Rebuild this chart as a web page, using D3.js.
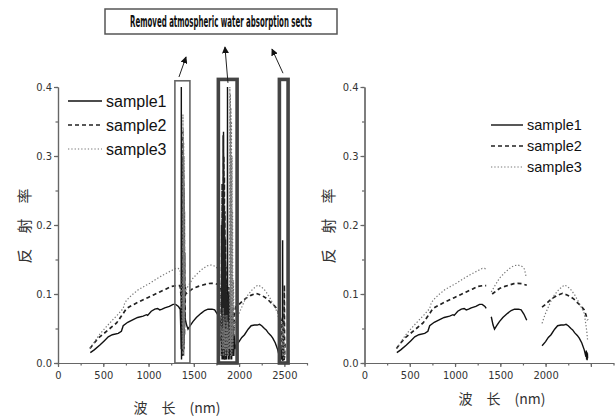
<!DOCTYPE html>
<meta charset="utf-8">
<style>
body { margin: 0; background: #fff; }
.axis path, .axis line { stroke: #666; stroke-width: 1.2; fill: none; }
.axis text { font-family: "Liberation Sans Narrow", "DejaVu Sans Condensed", sans-serif; font-size: 11px; fill: #333; }
.legend text { font-family: "Liberation Sans", Arial, sans-serif; fill: #111; }
.cjk { font-family: "Noto Sans CJK SC", sans-serif; fill: #333; }
</style>
<body>
<script src="https://d3js.org/d3.v7.min.js"></script>
<script>

// reflectance spectra outside the water absorption bands [nm, value]
var sample1 = [[357,0.015],[400,0.019],[463,0.026],[510,0.032],[555,0.038],[600,0.041],[665,0.043],[700,0.046],[720,0.054],[770,0.059],[830,0.063],[880,0.066],[940,0.068],[977,0.070],[990,0.069],[1030,0.075],[1069,0.078],[1100,0.079],[1124,0.077],[1150,0.078],[1179,0.080],[1230,0.082],[1271,0.085],[1300,0.085],[1330,0.082],[1344,0.079],
  [1400,0.067],[1420,0.055],[1436,0.049],[1460,0.054],[1490,0.060],[1528,0.066],[1580,0.072],[1620,0.076],[1656,0.078],[1700,0.078],[1730,0.077],[1760,0.071],[1792,0.062],
  [1961,0.025],[2000,0.031],[2030,0.037],[2060,0.041],[2100,0.049],[2133,0.054],[2170,0.055],[2200,0.055],[2226,0.056],[2250,0.054],[2280,0.050],[2299,0.048],[2320,0.044],[2350,0.040],[2372,0.036],[2400,0.029],[2427,0.019],[2440,0.012],[2446,0.009],[2450,0.018],[2453,0.005],[2456,0.016],[2459,0.004],[2462,0.014],[2464,0.007]];

var sample2 = [[353,0.021],[400,0.029],[445,0.036],[500,0.042],[555,0.048],[600,0.053],[647,0.058],[700,0.068],[757,0.079],[810,0.083],[867,0.087],[930,0.091],[996,0.095],[1060,0.099],[1124,0.103],[1190,0.107],[1252,0.111],[1300,0.112],[1344,0.112],
  [1410,0.100],[1450,0.104],[1491,0.108],[1550,0.111],[1601,0.113],[1650,0.115],[1693,0.1155],[1740,0.115],[1792,0.1126],
  [1961,0.081],[2000,0.085],[2040,0.090],[2078,0.094],[2130,0.098],[2188,0.101],[2230,0.099],[2262,0.097],[2310,0.093],[2354,0.087],[2390,0.083],[2427,0.077],[2445,0.070],[2464,0.062]];

var sample3 = [[353,0.021],[400,0.030],[450,0.040],[537,0.053],[600,0.062],[660,0.070],[720,0.079],[735,0.086],[757,0.091],[820,0.099],[885,0.106],[950,0.111],[1014,0.1155],[1090,0.122],[1161,0.1275],[1240,0.133],[1300,0.137],[1326,0.137],[1345,0.136],
  [1400,0.103],[1440,0.112],[1491,0.123],[1550,0.131],[1601,0.137],[1650,0.141],[1693,0.142],[1740,0.140],[1767,0.136],[1785,0.125],
  [1961,0.0575],[1990,0.069],[2023,0.079],[2060,0.090],[2097,0.0985],[2150,0.107],[2207,0.113],[2240,0.111],[2281,0.106],[2320,0.099],[2354,0.091],[2390,0.082],[2427,0.072],[2440,0.060],[2453,0.048],[2464,0.033]];

// noisy readings inside the absorption bands (only in the left panel)
var sample1Bands = [[1350,0.078],[1356,0.05],[1360,0.02],[1362,0.400],[1364,0.005],[1368,0.04],[1375,0.02],[1382,0.06],[1390,0.03],[1396,0.06],
  [1800,0.055],[1804,0.01],[1808,0.07],[1812,0.005],[1815,0.09],[1818,0.01],[1822,0.06],[1825,0.005],[1828,0.335],[1832,0.005],[1835,0.10],[1838,0.01],[1842,0.08],[1845,0.005],[1849,0.11],[1852,0.01],[1856,0.07],[1860,0.005],[1864,0.09],[1868,0.01],[1870,0.06],[1872,0.400],[1874,0.01],[1878,0.08],[1882,0.005],[1886,0.10],[1890,0.01],[1895,0.07],[1899,0.005],[1903,0.09],[1907,0.01],[1912,0.06],[1918,0.005],[1923,0.07],[1928,0.01],[1935,0.05],[1942,0.01],[1948,0.04],[1955,0.02],
  [2470,0.02],[2475,0.005],[2479,0.01],[2481,0.178],[2483,0.003],[2490,0.01],[2497,0.004],[2505,0.01]];

var sample2Bands = [[1350,0.110],[1365,0.09],[1372,0.02],[1375,0.335],[1377,0.01],[1379,0.32],[1381,0.02],[1383,0.30],[1385,0.01],[1387,0.28],[1389,0.03],[1391,0.25],[1393,0.02],[1395,0.22],[1397,0.04],[1399,0.16],[1403,0.06],[1406,0.11],
  [1800,0.105],[1804,0.03],[1807,0.20],[1810,0.01],[1813,0.26],[1816,0.02],[1819,0.24],[1822,0.01],[1825,0.33],[1828,0.02],[1831,0.30],[1834,0.01],[1837,0.27],[1840,0.005],[1843,0.22],[1846,0.02],[1849,0.18],[1852,0.01],[1855,0.14],[1858,0.02],[1862,0.12],[1866,0.01],[1870,0.10],[1874,0.02],[1878,0.09],[1883,0.01],[1888,0.11],[1893,0.02],[1898,0.08],[1903,0.01],[1908,0.09],[1914,0.02],[1920,0.07],[1926,0.01],[1933,0.08],[1940,0.03],[1947,0.07],[1955,0.075],
  [2470,0.05],[2478,0.01],[2485,0.04],[2490,0.005],[2500,0.113],[2502,0.01],[2508,0.03]];

var sample3Bands = [[1352,0.130],[1366,0.10],[1378,0.02],[1380,0.36],[1382,0.02],[1384,0.34],[1386,0.01],[1388,0.32],[1390,0.03],[1392,0.30],[1394,0.02],[1396,0.26],[1397,0.05],[1398,0.18],[1399,0.08],
  [1790,0.11],[1800,0.04],[1805,0.07],[1810,0.01],[1815,0.05],[1820,0.02],[1825,0.08],[1830,0.01],[1835,0.06],[1840,0.02],[1845,0.07],[1850,0.01],[1855,0.05],[1860,0.02],[1865,0.07],[1870,0.01],[1875,0.06],[1880,0.01],[1885,0.05],[1890,0.02],[1895,0.03],[1898,0.40],[1901,0.02],[1904,0.39],[1907,0.01],[1910,0.37],[1913,0.02],[1916,0.35],[1919,0.01],[1922,0.30],[1925,0.03],[1928,0.22],[1932,0.02],[1938,0.12],[1945,0.04],[1952,0.06],
  [2470,0.03],[2476,0.06],[2482,0.01],[2488,0.05],[2494,0.005],[2500,0.03],[2506,0.01]];

var seriesNames = ["sample1", "sample2", "sample3"];
var removedBands = [[1346,1399],[1793,1960],[2465,2545]];

// annotation boxes around the bands (nm), and arrows [nm, value]
var bandBoxes = [{x0:1291, x1:1457, top:0.409, w:1.6}, {x0:1771, x1:1978, top:0.411, w:3.6}, {x0:2445, x1:2541, top:0.411, w:3.6}];
var arrows = [{from:[1336,0.4145], to:[1414,0.4435]}, {from:[1877,0.406], to:[1844,0.458]}, {from:[2485,0.420], to:[2363,0.455]}];
var noteText = "Removed atmospheric water absorption sects";

var xTicks = d3.range(0, 2751, 250);
var yTicks = d3.range(0, 0.401, 0.05);

var styles = [
  {stroke:"#111", width:1.4, dash:null},
  {stroke:"#222", width:1.7, dash:"4,3"},
  {stroke:"#777", width:1.2, dash:"1.3,2"}
];

var svg = d3.select("body").append("svg")
    .attr("width", 616)
    .attr("height", 419);

var y = d3.scaleLinear().domain([0, 0.4]).range([363, 87]);

function withGaps(arr) {
  var out = [];
  arr.forEach(function(d, i) {
    if (i > 0) {
      var prev = arr[i-1][0];
      var cut = removedBands.some(function(b) { return prev < b[0] && d[0] > b[1]; });
      if (cut) out.push(null);
    }
    out.push(d);
  });
  return out;
}

function merged(a, b) {
  return a.concat(b).sort(function(p, q) { return p[0] - q[0]; });
}

function drawPanel(x, opts) {
  var g = svg.append("g");

  // minor ticks
  g.append("g").attr("class", "axis")
      .attr("transform", "translate(0," + y(0) + ")")
      .call(d3.axisBottom(x).tickValues(xTicks).tickSize(2.5).tickSizeOuter(0).tickFormat(""));
  g.append("g").attr("class", "axis")
      .attr("transform", "translate(0," + y(0) + ")")
      .call(d3.axisBottom(x).tickValues(xTicks.filter(function(t) { return t % 500 === 0; }))
        .tickSize(4).tickSizeOuter(0).tickPadding(4)
        .tickFormat(function(t) { return opts.hide2500 && t === 2500 ? "" : t; }));

  g.append("g").attr("class", "axis")
      .attr("transform", "translate(" + x(0) + ",0)")
      .call(d3.axisLeft(y).tickValues(yTicks).tickSize(2.5).tickSizeOuter(0).tickFormat(""));
  g.append("g").attr("class", "axis")
      .attr("transform", "translate(" + x(0) + ",0)")
      .call(d3.axisLeft(y).tickValues([0, 0.1, 0.2, 0.3, 0.4]).tickSize(4).tickSizeOuter(0).tickPadding(2)
        .tickFormat(d3.format(".1f")));

  var line = d3.line()
      .defined(function(d) { return d !== null; })
      .x(function(d) { return x(d[0]); })
      .y(function(d) { return y(d[1]); });

  opts.series.forEach(function(s, i) {
    g.append("path")
        .datum(s)
        .attr("d", line)
        .attr("fill", "none")
        .attr("stroke", styles[i].stroke)
        .attr("stroke-width", styles[i].width)
        .attr("stroke-dasharray", styles[i].dash);
  });

  // legend
  var lg = g.append("g").attr("class", "legend");
  seriesNames.forEach(function(name, i) {
    var ly = opts.legY + i * opts.legStep;
    lg.append("line")
        .attr("x1", opts.legX).attr("x2", opts.legX + opts.legLen)
        .attr("y1", ly).attr("y2", ly)
        .attr("stroke", styles[i].stroke)
        .attr("stroke-width", styles[i].width)
        .attr("stroke-dasharray", styles[i].dash);
    lg.append("text")
        .attr("x", opts.legX + opts.legLen + 4)
        .attr("y", ly + opts.legFont * 0.36)
        .style("font-size", opts.legFont + "px")
        .text(name);
  });

  // axis titles
  g.append("text").attr("class", "cjk")
      .attr("transform", "translate(" + opts.yLabX + ",226) rotate(-90)")
      .attr("text-anchor", "middle")
      .attr("dy", "0.35em")
      .style("font-size", "15px")
      .text("反　射　率");

  g.append("text").attr("class", "cjk")
      .attr("x", opts.xLabX).attr("y", opts.xLabY)
      .attr("text-anchor", "middle")
      .style("font-size", "14px")
      .text("波　长　(nm)");
  return g;
}

var xL = d3.scaleLinear().domain([0, 2750]).range([58, 307]);
var xR = d3.scaleLinear().domain([0, 2750]).range([364.5, 613.5]);

var left = drawPanel(xL, {
  series: [merged(sample1, sample1Bands), merged(sample2, sample2Bands), merged(sample3, sample3Bands)],
  legX: 68, legLen: 34, legY: 101, legStep: 24, legFont: 16,
  yLabX: 25, xLabX: 177, xLabY: 413
});

drawPanel(xR, {
  series: [withGaps(sample1), withGaps(sample2), withGaps(sample3)],
  legX: 491, legLen: 32, legY: 125, legStep: 21, legFont: 14.5,
  yLabX: 329, xLabX: 502, xLabY: 404, hide2500: true
});

// band boxes
left.selectAll(".band")
    .data(bandBoxes)
  .enter().append("rect")
    .attr("x", function(d) { return xL(d.x0); })
    .attr("y", function(d) { return y(d.top); })
    .attr("width", function(d) { return xL(d.x1) - xL(d.x0); })
    .attr("height", function(d) { return y(0) - y(d.top); })
    .attr("fill", "none")
    .attr("stroke", function(d) { return d.w > 2 ? "#444" : "#666"; })
    .attr("stroke-width", function(d) { return d.w; });

// note box
svg.append("rect")
    .attr("x", 105).attr("y", 9).attr("width", 232).attr("height", 25)
    .attr("fill", "#fff").attr("stroke", "#555").attr("stroke-width", 1.5);
svg.append("text")
    .attr("x", 221).attr("y", 26.5)
    .attr("text-anchor", "middle")
    .attr("textLength", 182)
    .attr("lengthAdjust", "spacingAndGlyphs")
    .style("font-family", "'Liberation Sans Narrow', 'DejaVu Sans Condensed', sans-serif")
    .style("font-weight", "bold")
    .style("font-size", "15px")
    .attr("fill", "#111")
    .text(noteText);

svg.append("defs").append("marker")
    .attr("id", "head")
    .attr("viewBox", "0 0 10 10")
    .attr("refX", 9).attr("refY", 5)
    .attr("markerWidth", 7).attr("markerHeight", 7)
    .attr("markerUnits", "userSpaceOnUse")
    .attr("orient", "auto")
  .append("path")
    .attr("d", "M0,0L10,5L0,10z")
    .attr("fill", "#111");

svg.selectAll(".arrow")
    .data(arrows)
  .enter().append("line")
    .attr("x1", function(d) { return xL(d.from[0]); })
    .attr("y1", function(d) { return y(d.from[1]); })
    .attr("x2", function(d) { return xL(d.to[0]); })
    .attr("y2", function(d) { return y(d.to[1]); })
    .attr("stroke", "#222")
    .attr("stroke-width", 1)
    .attr("marker-end", "url(#head)");

</script>
</body>
